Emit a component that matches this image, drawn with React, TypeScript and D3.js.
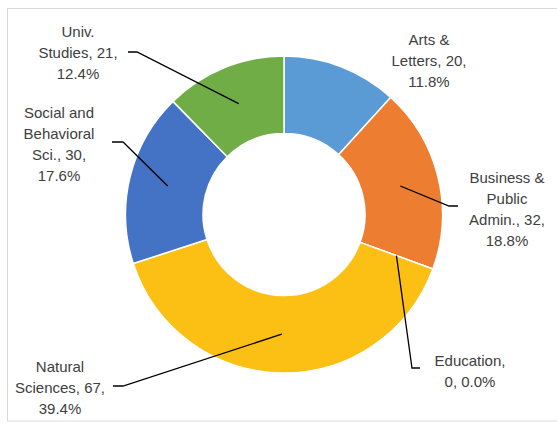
import React, { useEffect, useRef } from 'react';
import * as d3 from 'd3';

// Data (clockwise from 12 o'clock)
const categories = [
  'Arts & Letters',
  'Business & Public Admin.',
  'Education',
  'Natural Sciences',
  'Social and Behavioral Sci.',
  'Univ. Studies',
];
const counts = [20, 32, 0, 67, 30, 21];
const colors = ['#5B9BD5', '#ED7D31', '#A5A5A5', '#FCBF14', '#4472C4', '#70AD47'];

// Excel-style label text lines (manual wrapping as in the reference)
const labelLines = [
  ['Arts &', 'Letters, 20,', '11.8%'],
  ['Business &', 'Public', 'Admin., 32,', '18.8%'],
  ['Education,', '0, 0.0%'],
  ['Natural', 'Sciences, 67,', '39.4%'],
  ['Social and', 'Behavioral', 'Sci., 30,', '17.6%'],
  ['Univ.', 'Studies, 21,', '12.4%'],
];

// Label layout: text centre x, first line centre y, leader elbow & end (null = no leader)
const labelLayout: { x: number; y: number; elbow: [number, number] | null; end: [number, number] | null }[] = [
  { x: 429, y: 39, elbow: null, end: null },
  { x: 507, y: 177, elbow: [449, 206], end: [458, 206] },
  { x: 470, y: 360, elbow: [412, 368], end: [420, 368] },
  { x: 60, y: 366, elbow: [123, 386], end: [113, 386] },
  { x: 59, y: 112, elbow: [123, 142], end: [112, 142] },
  { x: 78, y: 31, elbow: [137, 52], end: [128, 52] },
];

const W = 557;
const H = 428;

export default function App() {
  const svgRef = useRef<SVGSVGElement>(null);

  useEffect(() => {
    if (!svgRef.current) return;
    const svg = d3.select(svgRef.current);
    svg.selectAll('*').remove();

    const cx = 284;
    const cy = 214.5;
    const outerR = 158.5;
    const innerR = 81;
    const lineH = 21.2;

    // chart area border
    svg.append('rect')
      .attr('x', 7.5)
      .attr('y', 8.5)
      .attr('width', W)
      .attr('height', 412.5)
      .attr('fill', '#fff')
      .attr('stroke', '#d9d9d9')
      .attr('stroke-width', 1);

    const data = categories.map((c, i) => ({ name: c, value: counts[i], i }));

    const pie = d3.pie<typeof data[0]>()
      .value(d => d.value)
      .sort(null);

    const arc = d3.arc<d3.PieArcDatum<typeof data[0]>>()
      .innerRadius(innerR)
      .outerRadius(outerR);

    const arcs = pie(data);

    const g = svg.append('g').attr('transform', `translate(${cx},${cy})`);

    g.selectAll('path.slice')
      .data(arcs)
      .enter()
      .append('path')
      .attr('class', 'slice')
      .attr('d', arc)
      .attr('fill', d => colors[d.data.i])
      .attr('stroke', '#fff')
      .attr('stroke-width', 1.5);

    // leader lines
    arcs.forEach(a => {
      const lay = labelLayout[a.data.i];
      if (!lay.elbow || !lay.end) return;
      const [px, py] = arc.centroid(a);
      const pts: [number, number][] = [
        [px + cx, py + cy],
        lay.elbow,
        lay.end,
      ];
      svg.append('path')
        .attr('d', d3.line()(pts))
        .attr('fill', 'none')
        .attr('stroke', '#000')
        .attr('stroke-width', 1.3);
    });

    // labels
    labelLines.forEach((lines, i) => {
      const lay = labelLayout[i];
      const t = svg.append('text')
        .attr('text-anchor', 'middle')
        .attr('font-family', 'Liberation Sans, Arial, sans-serif')
        .attr('font-size', 15)
        .attr('fill', '#404040');
      lines.forEach((ln, k) => {
        t.append('tspan')
          .attr('x', lay.x)
          .attr('y', lay.y + k * lineH + 5.5)
          .text(ln);
      });
    });
  }, []);

  return (
    <svg
      ref={svgRef}
      width={W}
      height={H}
      style={{ position: 'absolute', left: 0, top: 0, background: '#fff' }}
    />
  );
}
